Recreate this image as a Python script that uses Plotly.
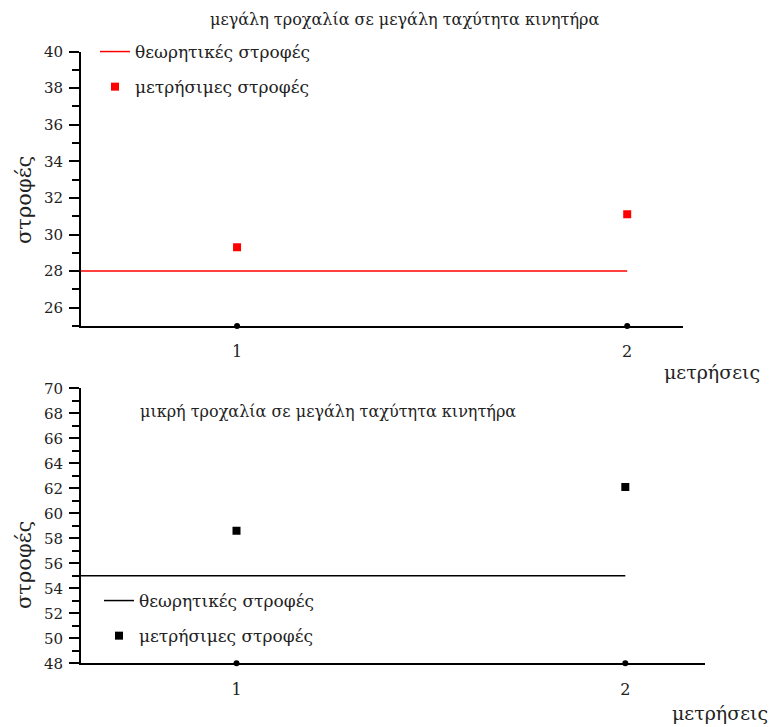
import plotly.graph_objects as go

# Measurements (x = measurement number)
measurement_no = [1, 2]
tick_labels = ["1", "2"]

# Large pulley, high motor speed
large_measured = [29.3, 31.1]
large_theoretical = 28

# Small pulley, high motor speed
small_measured = [58.6, 62.1]
small_theoretical = 55

W, H = 776, 727
FONT = "DejaVu Serif, Liberation Serif, serif"
TXT = "#222222"

def px_x(p):
    return p / W

def px_y(p):
    return 1 - p / H

top_xrange = [0.6, 2.143]
top_yrange = [25, 40]
bot_xrange = [0.6, 2.205]
bot_yrange = [48, 70]

fig = go.Figure()

# --- top panel ---
fig.add_trace(go.Scatter(
    x=[top_xrange[0], measurement_no[-1]], y=[large_theoretical] * 2,
    mode="lines", line=dict(color="#ff0000", width=1.5),
    name="θεωρητικές στροφές", xaxis="x", yaxis="y", legend="legend",
    legendgroup="a1"))
fig.add_trace(go.Scatter(
    x=measurement_no, y=large_measured, mode="markers",
    marker=dict(symbol="square", size=8, color="#ff0000"),
    name="μετρήσιμες στροφές", xaxis="x", yaxis="y", legend="legend",
    legendgroup="a2"))
fig.add_trace(go.Scatter(
    x=measurement_no, y=[top_yrange[0]] * 2, mode="markers",
    marker=dict(symbol="circle", size=6, color="black"),
    cliponaxis=False, showlegend=False, hoverinfo="skip",
    xaxis="x", yaxis="y"))

# --- bottom panel ---
fig.add_trace(go.Scatter(
    x=[bot_xrange[0], measurement_no[-1]], y=[small_theoretical] * 2,
    mode="lines", line=dict(color="black", width=1.5),
    name="θεωρητικές στροφές", xaxis="x2", yaxis="y2", legend="legend2",
    legendgroup="b1"))
fig.add_trace(go.Scatter(
    x=measurement_no, y=small_measured, mode="markers",
    marker=dict(symbol="square", size=8, color="black"),
    name="μετρήσιμες στροφές", xaxis="x2", yaxis="y2", legend="legend2",
    legendgroup="b2"))
fig.add_trace(go.Scatter(
    x=measurement_no, y=[bot_yrange[0]] * 2, mode="markers",
    marker=dict(symbol="circle", size=6, color="black"),
    cliponaxis=False, showlegend=False, hoverinfo="skip",
    xaxis="x2", yaxis="y2"))

xcommon = dict(
    tickvals=measurement_no, ticktext=tick_labels, showline=True,
    linecolor="black", linewidth=2, ticks="", showgrid=False,
    zeroline=False, tickfont=dict(family=FONT, size=16, color=TXT),
    ticklabelstandoff=10)
ycommon = dict(
    dtick=2, showline=True, linecolor="black", linewidth=2,
    ticks="outside", ticklen=10, tickwidth=2, tickcolor="black",
    minor=dict(dtick=1, ticks="outside", ticklen=7, tickwidth=2,
               tickcolor="black"),
    showgrid=False, zeroline=False, ticklabelstandoff=3,
    tickfont=dict(family=FONT, size=15, color=TXT))

legend_common = dict(
    xanchor="left", yanchor="top", bgcolor="rgba(0,0,0,0)",
    tracegroupgap=10, traceorder="grouped",
    font=dict(family=FONT, size=17, color=TXT))

fig.update_layout(
    width=W, height=H,
    margin=dict(l=0, r=0, t=0, b=0, autoexpand=False),
    paper_bgcolor="white", plot_bgcolor="white",
    xaxis=dict(domain=[px_x(81), px_x(683)], range=top_xrange,
               anchor="y", **xcommon),
    yaxis=dict(domain=[px_y(326), px_y(51.5)], range=top_yrange,
               anchor="x", tick0=26, **ycommon),
    xaxis2=dict(domain=[px_x(81), px_x(705)], range=bot_xrange,
                anchor="y2", **xcommon),
    yaxis2=dict(domain=[px_y(663.3), px_y(388.3)], range=bot_yrange,
                anchor="x2", tick0=48, **ycommon),
    legend=dict(x=px_x(95), y=px_y(34), **legend_common),
    legend2=dict(x=px_x(99), y=px_y(583), **legend_common),
)

ann = [
    dict(text="μεγάλη τροχαλία σε μεγάλη ταχύτητα κινητήρα",
         x=px_x(404), y=px_y(20), size=16),
    dict(text="μικρή τροχαλία σε μεγάλη ταχύτητα κινητήρα",
         x=px_x(328), y=px_y(411), size=16),
    dict(text="μετρήσεις", x=px_x(712), y=px_y(372), size=19),
    dict(text="μετρήσεις", x=px_x(720), y=px_y(713), size=19),
    dict(text="στροφές", x=px_x(24), y=px_y(200), size=21, angle=-90),
    dict(text="στροφές", x=px_x(24), y=px_y(565), size=21, angle=-90),
]
for a in ann:
    fig.add_annotation(
        text=a["text"], x=a["x"], y=a["y"], xref="paper", yref="paper",
        xanchor="center", yanchor="middle", showarrow=False,
        textangle=a.get("angle", 0),
        font=dict(family=FONT, size=a["size"], color=TXT))

fig.write_html("out.html")
